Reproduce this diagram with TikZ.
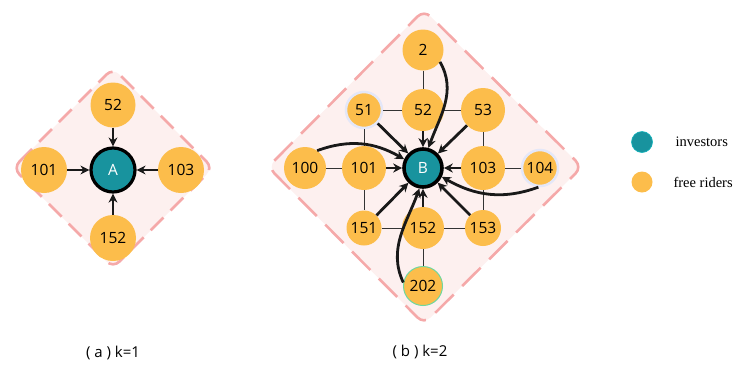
\documentclass[tikz,border=0pt]{standalone}
\usepackage{fontspec}
\setmainfont{Open Sans}
\newfontfamily\legfont{Liberation Serif}
\usetikzlibrary{arrows.meta}
\definecolor{fr}{HTML}{FCBD4B}
\definecolor{inv}{HTML}{18939E}
\definecolor{dfill}{HTML}{FDF0EF}
\definecolor{dline}{HTML}{F5A9A9}
\definecolor{lav}{HTML}{E4E7F8}
\tikzset{
  frnode/.style={circle,fill=fr,inner sep=0pt,minimum size=#1,font=\fontsize{15.5}{15.5}\selectfont},
  frnode/.default=44pt,
  invnode/.style={circle,fill=inv,draw=black,line width=3.2pt,inner sep=0pt,minimum size=#1,text=white,font=\fontsize{15.5}{15.5}\selectfont},
  invnode/.default=42pt,
  region/.style={fill=dfill,draw=dline,line width=2.6pt,rounded corners=9pt},
  grid/.style={draw=black!80,line width=0.9pt},
  flow/.style={draw=black!90,line width=2.8pt,-{Stealth[length=9pt,width=9pt]}},
  caption/.style={font=\fontsize{15}{15}\selectfont},
  legtext/.style={font=\legfont\fontsize{14.5}{14.5}\selectfont,anchor=west}
}
\begin{document}
\begin{tikzpicture}[x=1pt,y=-1pt]
\useasboundingbox (0,0) rectangle (734,365);
% ---------- panel (a)
\draw[region,dash pattern=on 18pt off 10pt] (13,168) -- (113,68) -- (213,168) -- (113,268) -- cycle;
\node[invnode=44pt] (A) at (113,170) {A};
\node[frnode=45pt] (a52) at (113,105) {52};
\node[frnode=46pt] (a101) at (44,170) {101};
\node[frnode=46pt] (a103) at (181,170) {103};
\node[frnode=46pt] (a152) at (113,238) {152};
\draw[flow] (a52) -- (A);
\draw[flow] (a101) -- (A);
\draw[flow] (a103) -- (A);
\draw[flow] (a152) -- (A);
% ---------- panel (b)
\draw[region,dash pattern=on 26pt off 12pt] (268,167) -- (424,10) -- (582,167) -- (424,324) -- cycle;
\node[frnode=41pt] (b2) at (423,50) {2};
\node[frnode=36pt,draw=lav,line width=2.5pt] (b51) at (364,110) {51};
\node[frnode=42pt] (b52) at (423,110) {52};
\node[frnode=44pt] (b53) at (483,110) {53};
\node[frnode=42pt] (b100) at (305,168) {100};
\node[frnode=44pt] (b101) at (364,168) {101};
\node[frnode=44pt] (b103) at (483,168) {103};
\node[frnode=36pt,draw=lav,line width=2.5pt] (b104) at (540,168) {104};
\node[frnode=35pt] (b151) at (364,228) {151};
\node[frnode=42pt] (b152) at (423,228) {152};
\node[frnode=36pt] (b153) at (483,228) {153};
\node[frnode=39pt,draw=inv!60!green!60,line width=1pt] (b202) at (423,286) {202};
\node[invnode=38pt,line width=3.6pt] (B) at (423,168) {B};
% grid lines
\draw[grid] (b2) -- (b52);
\draw[grid] (b51) -- (b52);
\draw[grid] (b52) -- (b53);
\draw[grid] (b51) -- (b101);
\draw[grid] (b53) -- (b103);
\draw[grid] (b100) -- (b101);
\draw[grid] (b103) -- (b104);
\draw[grid] (b101) -- (b151);
\draw[grid] (b103) -- (b153);
\draw[grid] (b151) -- (b152);
\draw[grid] (b152) -- (b153);
\draw[grid] (b152) -- (b202);
% straight flows
\draw[flow] (b51) -- (B);
\draw[flow] (b52) -- (B);
\draw[flow] (b53) -- (B);
\draw[flow] (b101) -- (B);
\draw[flow] (b103) -- (B);
\draw[flow] (b151) -- (B);
\draw[flow] (b152) -- (B);
\draw[flow] (b153) -- (B);
% curved flows
\draw[flow] (b2.-35) to[out=-60,in=70] (B.75);
\draw[flow] (b100.55) to[out=20,in=150] (B.155);
\draw[flow] (b104.-95) to[out=-160,in=-30] (B.-25);
\draw[flow] (b202.170) to[out=115,in=-110] (B.-100);
% ---------- legend
\node[circle,fill=inv,draw=inv!70!cyan,line width=0.6pt,inner sep=0pt,minimum size=21pt] (linv) at (642,142) {};
\node[circle,fill=fr,inner sep=0pt,minimum size=21pt] (lfr) at (642,182) {};
\node[legtext] (tinv) at (672,142) {investors};
\node[legtext] (tfr) at (670,182) {free riders};
% ---------- captions
\node[caption] (capa) at (113,353) {( a ) k=1};
\node[caption] (capb) at (420,352) {( b ) k=2};
\end{tikzpicture}
\end{document}
